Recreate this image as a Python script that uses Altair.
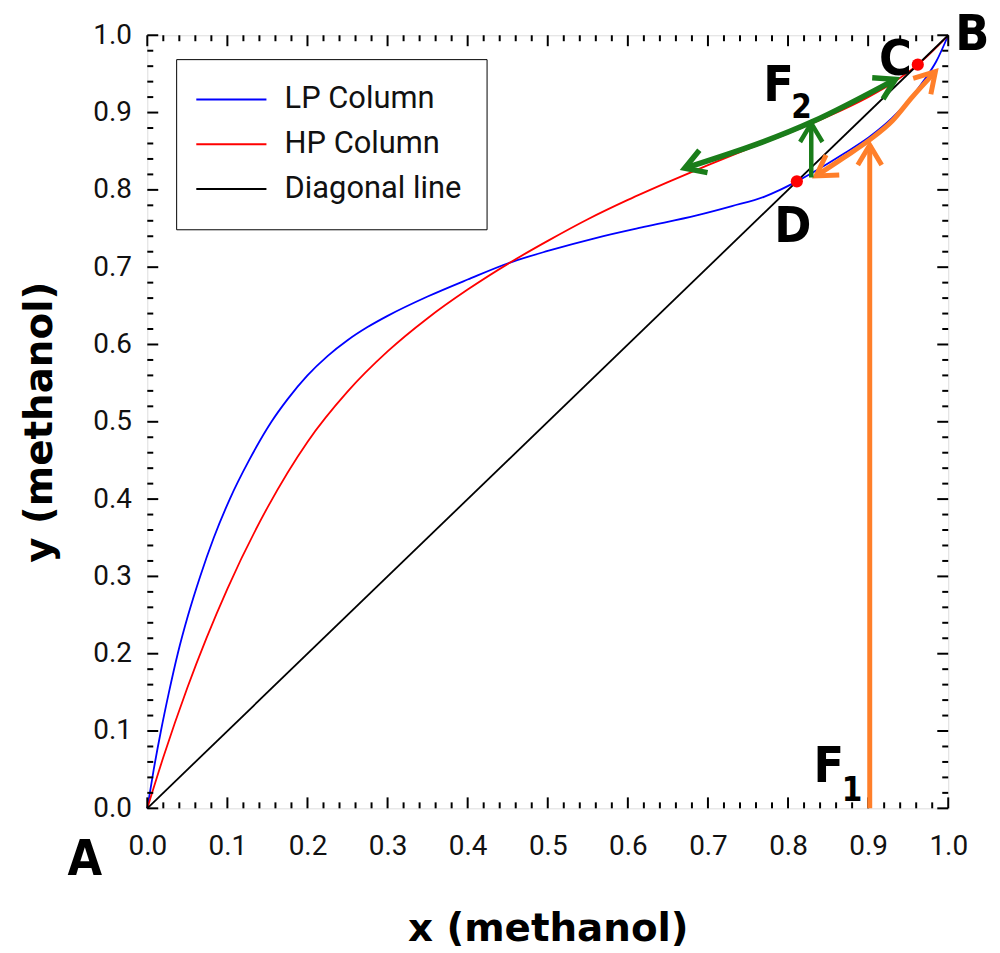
import math
import altair as alt
import pandas as pd

# ---------------- data ----------------
lp_x = [0.0, 0.008, 0.017, 0.027, 0.038, 0.051, 0.066, 0.083, 0.103, 0.127, 0.155, 0.175,
        0.200, 0.225, 0.250, 0.275, 0.300, 0.350, 0.400, 0.453, 0.500, 0.561, 0.620, 0.686,
        0.730, 0.770, 0.790, 0.811, 0.840, 0.870, 0.901, 0.930, 0.951, 0.970, 0.985, 1.0]
lp_y = [0.0, 0.050, 0.100, 0.150, 0.200, 0.250, 0.300, 0.350, 0.400, 0.450, 0.500, 0.529,
        0.560, 0.585, 0.6055, 0.6225, 0.637, 0.662, 0.684, 0.706, 0.721, 0.738, 0.752, 0.767,
        0.779, 0.791, 0.800, 0.811, 0.828, 0.847, 0.868, 0.893, 0.916, 0.942, 0.966, 1.0]

hp_x = [0.0, 0.020, 0.050, 0.100, 0.150, 0.200, 0.250, 0.300, 0.350, 0.400, 0.453, 0.500,
        0.550, 0.600, 0.650, 0.700, 0.750, 0.800, 0.850, 0.900, 0.930, 0.962, 1.0]
hp_y = [0.0, 0.066, 0.156, 0.284, 0.389, 0.474, 0.539, 0.591, 0.634, 0.671, 0.706, 0.734,
        0.762, 0.787, 0.810, 0.832, 0.853, 0.873, 0.895, 0.920, 0.938, 0.962, 1.0]

diag_x = [0.0, 1.0]
diag_y = [0.0, 1.0]

series_names = ["LP Column", "HP Column", "Diagonal line"]
series_colors = ["#0000ff", "#ff0000", "#000000"]

# azeotrope points C and D
pt_x = [0.962, 0.811]
pt_y = [0.962, 0.811]

# arrows (polyline points) : orange F1 path, green F2 path
orange_vert_x = [0.902, 0.902]
orange_vert_y = [0.0, 0.858]
orange_diag_x = [0.835, 0.870, 0.901, 0.930, 0.955, 0.984]
orange_diag_y = [0.818, 0.842, 0.864, 0.889, 0.920, 0.953]
green_diag_x = [0.671, 0.830, 0.934]
green_diag_y = [0.828, 0.888, 0.943]
green_vert_x = [0.829, 0.829]
green_vert_y = [0.816, 0.886]

# text labels
lab_text = ["A", "B", "C", "D", "F", "F"]
lab_x = [-0.078, 1.030, 0.934, 0.806, 0.788, 0.851]
lab_y = [-0.067, 1.000, 0.968, 0.752, 0.934, 0.053]
sub_text = ["2", "1"]
sub_x = [0.817, 0.880]
sub_y = [0.906, 0.022]

major_ticks = [round(i * 0.1, 2) for i in range(11)]
minor_ticks = [round(i * 0.02, 2) for i in range(51) if i % 5 != 0]

W, H = 805, 777
ORANGE = "#ff7f2a"
GREEN = "#1a7d1a"
LETTER_FONT = "DejaVu Sans Condensed, Liberation Sans, sans-serif"

xs = alt.Scale(domain=[0, 1], nice=False, zero=False)
ys = alt.Scale(domain=[0, 1], nice=False, zero=False)

# ---------------- curves ----------------
rows = []
for name, xx, yy in zip(series_names, [lp_x, hp_x, diag_x], [lp_y, hp_y, diag_y]):
    for a, b in zip(xx, yy):
        rows.append({"series": name, "x": a, "y": b})
curves = pd.DataFrame(rows)

curve_layer = alt.Chart(curves).mark_line(strokeWidth=1.8, interpolate="monotone").encode(
    x=alt.X("x:Q", scale=xs,
            axis=alt.Axis(values=major_ticks, format=".1f", title="x (methanol)", ticks=False,
                          domain=False, grid=False, labelFontSize=28, labelFont="Roboto",
                          labelColor="#111", labelPadding=24, labelFlush=False,
                          labelOverlap=False, labelBound=False,
                          titleFont="DejaVu Sans", titleFontSize=39, titleFontWeight="bold",
                          titleColor="black", titlePadding=50)),
    y=alt.Y("y:Q", scale=ys,
            axis=alt.Axis(values=major_ticks, format=".1f", title="y (methanol)", ticks=False,
                          domain=False, grid=False, labelFontSize=28, labelFont="Roboto",
                          labelColor="#111", labelPadding=16, labelFlush=False,
                          labelOverlap=False, labelBound=False,
                          titleFont="DejaVu Sans", titleFontSize=39, titleFontWeight="bold",
                          titleColor="black", titlePadding=33)),
    color=alt.Color("series:N",
                    scale=alt.Scale(domain=series_names, range=series_colors),
                    sort=series_names,
                    legend=alt.Legend(title=None, orient="none", legendX=29, legendY=24,
                                      symbolType="M-4.7,0H4.7", symbolSize=225,
                                      symbolStrokeWidth=2, symbolOffset=15,
                                      labelFont="Roboto",
                                      labelFontSize=31, labelColor="#111", labelOffset=38,
                                      labelLimit=400,
                                      rowPadding=13, padding=25, strokeColor="black",
                                      fillColor="white", cornerRadius=0)),
    order=alt.Order("x:Q"),
)

# ---------------- ticks (inward, all sides) ----------------
def tick_layers(vals, length):
    df = pd.DataFrame({"v": vals})
    base = alt.Chart(df).mark_rule(color="black", strokeWidth=2)
    return [
        base.encode(x=alt.X("v:Q", scale=xs), y=alt.value(H), y2=alt.value(H - length)),
        base.encode(x=alt.X("v:Q", scale=xs), y=alt.value(0), y2=alt.value(length)),
        base.encode(y=alt.Y("v:Q", scale=ys), x=alt.value(0), x2=alt.value(length)),
        base.encode(y=alt.Y("v:Q", scale=ys), x=alt.value(W), x2=alt.value(W - length)),
    ]

ticks = tick_layers(major_ticks, 11) + tick_layers(minor_ticks, 6)

# ---------------- arrows ----------------
def head_angle(x0, y0, x1, y1):
    dx = (x1 - x0) * W
    dy = (y1 - y0) * H
    return math.degrees(math.atan2(dx, dy)) % 360

def shaft(xx, yy, color, width):
    df = pd.DataFrame({"x": xx, "y": yy, "o": list(range(len(xx)))})
    return alt.Chart(df).mark_line(color=color, strokeWidth=width, interpolate="monotone",
                                   strokeCap="butt").encode(
        x=alt.X("x:Q", scale=xs), y=alt.Y("y:Q", scale=ys), order="o:Q")

CHEVRON = "M-0.6,1L0,0L0.6,1"

def head(xx, yy, at_end, color, width, size):
    if at_end:
        ang = head_angle(xx[-2], yy[-2], xx[-1], yy[-1])
        hx, hy = xx[-1], yy[-1]
    else:
        ang = head_angle(xx[1], yy[1], xx[0], yy[0])
        hx, hy = xx[0], yy[0]
    df = pd.DataFrame({"x": [hx], "y": [hy], "a": [ang]})
    return alt.Chart(df).mark_point(shape=CHEVRON, filled=False, color=color,
                                    strokeWidth=width, size=size, opacity=1,
                                    strokeJoin="miter").encode(
        x=alt.X("x:Q", scale=xs), y=alt.Y("y:Q", scale=ys),
        angle=alt.Angle("a:Q", scale=None))

arrows = [
    shaft(orange_vert_x, orange_vert_y, ORANGE, 5),
    head(orange_vert_x, orange_vert_y, True, ORANGE, 5, 1600),
    shaft(orange_diag_x, orange_diag_y, ORANGE, 5),
    head(orange_diag_x, orange_diag_y, True, ORANGE, 5, 1600),
    head(orange_diag_x, orange_diag_y, False, ORANGE, 5, 1600),
    shaft(green_diag_x, green_diag_y, GREEN, 5.5),
    head(green_diag_x, green_diag_y, True, GREEN, 5.5, 1600),
    head(green_diag_x, green_diag_y, False, GREEN, 5.5, 1600),
    shaft(green_vert_x, green_vert_y, GREEN, 4.5),
    head(green_vert_x, green_vert_y, True, GREEN, 4.5, 1400),
]

# ---------------- points ----------------
pts = alt.Chart(pd.DataFrame({"x": pt_x, "y": pt_y})).mark_circle(
    color="#ff0000", size=150, opacity=1).encode(
    x=alt.X("x:Q", scale=xs), y=alt.Y("y:Q", scale=ys))

# ---------------- labels ----------------
big = alt.Chart(pd.DataFrame({"t": lab_text, "x": lab_x, "y": lab_y})).mark_text(
    font=LETTER_FONT, fontWeight="bold", fontSize=50, color="black",
    align="center", baseline="middle").encode(
    x=alt.X("x:Q", scale=xs), y=alt.Y("y:Q", scale=ys), text="t:N")
small = alt.Chart(pd.DataFrame({"t": sub_text, "x": sub_x, "y": sub_y})).mark_text(
    font=LETTER_FONT, fontWeight="bold", fontSize=33, color="black",
    align="center", baseline="middle").encode(
    x=alt.X("x:Q", scale=xs), y=alt.Y("y:Q", scale=ys), text="t:N")

chart = alt.layer(curve_layer, *ticks, *arrows, pts, big, small).properties(
    width=W, height=H,
    autosize=alt.AutoSizeParams(type="none"),
    padding={"left": 140, "top": 25, "right": 44, "bottom": 140},
).configure_view(stroke="black", strokeWidth=4).configure(background="white")

chart.save("out.html", embed_options={"renderer": "svg", "actions": False})
